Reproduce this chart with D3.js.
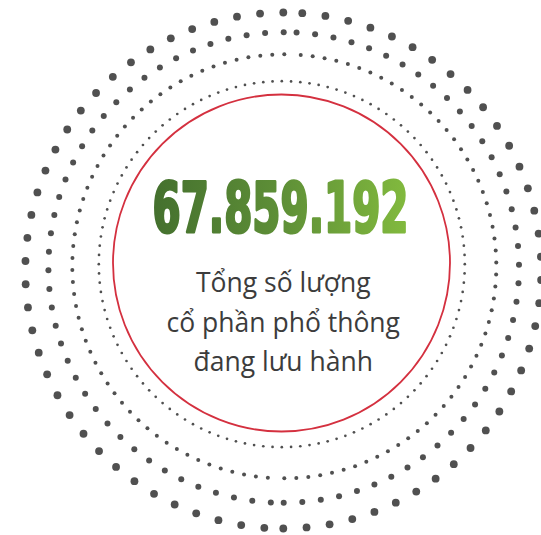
<!DOCTYPE html>
<html>
<head>
<meta charset="utf-8">
<script src="https://cdn.jsdelivr.net/npm/d3@7"></script>
<style>
  html, body { margin: 0; padding: 0; background: #fff; }
  svg { display: block; }
</style>
</head>
<body>
<div id="chart"></div>
<script>
// ---- data ----
const headlineValue = "67.859.192";
const captionLines = ["Tổng số lượng", "cổ phần phổ thông", "đang lưu hành"];

// dotted rings (inner → outer)
const ringNames     = ["r1", "r2", "r3", "r4"];
const ringRadius    = [183, 212, 235.3, 258];
const ringDotsHalf  = [62, 55, 40, 35];          // dots per half-circle
const ringStepDeg   = [180 / 62, 3.251, 4.535, 5.17];
const ringDotSize   = [1.35, 2.0, 3.0, 3.9];
const ringCenterX   = [281.8, 284.3, 283.7, 283.3];
const ringCenterY   = [264.2, 266.3, 267.5, 270.5];

// ---- drawing ----
const W = 541, H = 535;
const svg = d3.select("#chart").append("svg")
  .attr("width", W).attr("height", H)
  .attr("viewBox", `0 0 ${W} ${H}`);

const defs = svg.append("defs");
const grad = defs.append("linearGradient")
  .attr("id", "numGrad")
  .attr("gradientUnits", "objectBoundingBox")
  .attr("x1", 0).attr("y1", 0).attr("x2", 1).attr("y2", 0);
grad.append("stop").attr("offset", "0%").attr("stop-color", "#44702e");
grad.append("stop").attr("offset", "50%").attr("stop-color", "#5e8f37");
grad.append("stop").attr("offset", "100%").attr("stop-color", "#82ba3e");

// build dots for each ring
const rings = ringNames.map((name, i) => {
  const n = ringDotsHalf[i], step = ringStepDeg[i];
  const angles = [];
  for (const base of [180, 360]) {
    d3.range(n).forEach(k => angles.push(base - k * step));
  }
  return { name, r: ringRadius[i], size: ringDotSize[i], cx: ringCenterX[i], cy: ringCenterY[i], angles };
});

const toRad = d3.scaleLinear().domain([0, 360]).range([0, 2 * Math.PI]);

svg.selectAll("g.ring").data(rings).join("g")
  .attr("class", "ring")
  .attr("transform", d => `translate(${d.cx},${d.cy})`)
  .selectAll("circle")
  .data(d => d.angles.map(a => ({ a, r: d.r, size: d.size })))
  .join("circle")
  .attr("cx", d => d.r * Math.sin(toRad(d.a)))
  .attr("cy", d => -d.r * Math.cos(toRad(d.a)))
  .attr("r", d => d.size)
  .attr("fill", "#505050");

// red circle
svg.append("circle")
  .attr("cx", 281.5).attr("cy", 263).attr("r", 168.5)
  .attr("fill", "#fff")
  .attr("stroke", "#d4303f")
  .attr("stroke-width", 1.8);

// headline number (scaled horizontally to fit the measured width)
const num = svg.append("text")
  .attr("x", 0).attr("y", 0)
  .attr("text-anchor", "middle")
  .attr("font-family", "'Liberation Sans Narrow', 'DejaVu Sans Condensed', 'Liberation Sans', sans-serif")
  .attr("font-weight", "bold")
  .attr("font-size", 70)
  .attr("fill", "url(#numGrad)")
  .attr("stroke", "url(#numGrad)")
  .attr("stroke-width", 3)
  .attr("stroke-linejoin", "round")
  .text(headlineValue);
const natW = num.node().getComputedTextLength();
const sx = 256 / natW;
num.attr("transform", `translate(280.5,231.5) scale(${sx},1)`);

// caption
const yLine = d3.scaleLinear().domain([0, 2]).range([292, 371]);
svg.selectAll("text.cap").data(captionLines).join("text")
  .attr("class", "cap")
  .attr("x", 283.3)
  .attr("y", (d, i) => yLine(i))
  .attr("text-anchor", "middle")
  .attr("font-family", "'Open Sans', 'Noto Sans', sans-serif")
  .attr("font-size", 26.5)
  .attr("fill", "#3c3c3c")
  .text(d => d);
</script>
</body>
</html>
